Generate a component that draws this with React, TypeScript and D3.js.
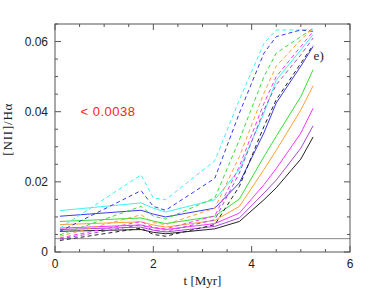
import React from 'react';
import * as d3 from 'd3';

const times = [0.1, 1.75, 2.0, 2.25, 3.25, 3.75, 4.25, 4.5, 5.0, 5.25];

// solid lines
const cyanSolid = [0.0118, 0.014, 0.0125, 0.0114, 0.0149, 0.0235, 0.0396, 0.049, 0.0576, 0.062];
const blueSolid = [0.0102, 0.0119, 0.0108, 0.010, 0.0125, 0.0197, 0.034, 0.0425, 0.053, 0.0586];
const greenSolid = [0.0087, 0.0097, 0.0088, 0.0081, 0.0102, 0.0151, 0.0272, 0.033, 0.0443, 0.052];
const orangeSolid = [0.0078, 0.0086, 0.0077, 0.0071, 0.009, 0.013, 0.0235, 0.029, 0.0405, 0.0474];
const magentaSolid = [0.0068, 0.0077, 0.0069, 0.0064, 0.0081, 0.0111, 0.0192, 0.0238, 0.0339, 0.041];
const purpleSolid = [0.0064, 0.0071, 0.0062, 0.0057, 0.0073, 0.0097, 0.0168, 0.0205, 0.0296, 0.036];
const blackSolid = [0.0059, 0.0064, 0.0056, 0.0052, 0.0066, 0.0087, 0.0149, 0.0183, 0.0265, 0.0328];

// dashed lines
const cyanDashed = [0.0068, 0.022, 0.0154, 0.0149, 0.026, 0.0434, 0.0595, 0.0633, 0.0633, 0.0635];
const blueDashed = [0.0059, 0.0175, 0.013, 0.0119, 0.021, 0.0396, 0.0567, 0.0614, 0.0633, 0.0629];
const greenDashed = [0.0049, 0.013, 0.0102, 0.0094, 0.0154, 0.032, 0.050, 0.0567, 0.0614, 0.0638];
const orangeDashed = [0.0045, 0.0106, 0.0084, 0.0078, 0.0125, 0.0272, 0.0453, 0.053, 0.0605, 0.0638];
const magentaDashed = [0.004, 0.0087, 0.007, 0.0066, 0.0103, 0.0244, 0.0424, 0.050, 0.0586, 0.0629];
const purpleDashed = [0.0037, 0.0078, 0.0062, 0.0059, 0.0092, 0.0225, 0.0405, 0.0477, 0.0562, 0.061];
const blackDashed = [0.0033, 0.0068, 0.005, 0.0045, 0.0078, 0.0187, 0.0358, 0.0434, 0.0538, 0.059];

const threshold = 0.0038;
const xTicks = [0, 2, 4, 6];
const yTicks = [0, 0.02, 0.04, 0.06];

const series = [
  { values: cyanSolid, color: '#3ff2f2', dashed: false },
  { values: blueSolid, color: '#3a3af0', dashed: false },
  { values: greenSolid, color: '#33e033', dashed: false },
  { values: orangeSolid, color: '#ffa030', dashed: false },
  { values: magentaSolid, color: '#ff33ff', dashed: false },
  { values: purpleSolid, color: '#a848e0', dashed: false },
  { values: blackSolid, color: '#222222', dashed: false },
  { values: cyanDashed, color: '#3ff2f2', dashed: true },
  { values: blueDashed, color: '#3a3af0', dashed: true },
  { values: greenDashed, color: '#33e033', dashed: true },
  { values: orangeDashed, color: '#ffa030', dashed: true },
  { values: magentaDashed, color: '#ff33ff', dashed: true },
  { values: purpleDashed, color: '#a848e0', dashed: true },
  { values: blackDashed, color: '#222222', dashed: true },
];

const W = 376;
const H = 291;
const margin = { top: 24, right: 26, bottom: 39, left: 55 };

export default function App() {
  const innerW = W - margin.left - margin.right;
  const innerH = H - margin.top - margin.bottom;
  const x = d3.scaleLinear().domain([0, 6]).range([0, innerW]);
  const y = d3.scaleLinear().domain([0, 0.065]).range([innerH, 0]);

  const line = d3.line<number>()
    .x((_, i) => x(times[i]))
    .y(d => y(d));

  const xMinor = d3.range(0, 6.01, 0.5);
  const yMinor = d3.range(0, 0.0651, 0.005);
  const frame = '#555';
  const numFont = '"Liberation Sans", Arial, sans-serif';
  const serif = '"Liberation Serif", "DejaVu Serif", serif';

  return (
    <svg width={W} height={H} style={{ position: 'absolute', left: 0, top: 0, background: '#fff' }}>
      <g transform={`translate(${margin.left},${margin.top})`}>
        <line x1={0} x2={innerW} y1={y(threshold)} y2={y(threshold)} stroke="#888" strokeWidth={1} />
        {series.map((s, i) => (
          <path key={i} d={line(s.values) || ''} fill="none" stroke={s.color}
            strokeWidth={1} strokeDasharray={s.dashed ? '4,3' : undefined} />
        ))}
        {/* ticks */}
        {xMinor.map((t, i) => {
          const major = Math.abs(t - Math.round(t / 2) * 2) < 1e-6;
          const len = major ? 6 : 3;
          return (
            <g key={'x' + i} stroke={frame} strokeWidth={1}>
              <line x1={x(t)} x2={x(t)} y1={innerH} y2={innerH - len} />
              <line x1={x(t)} x2={x(t)} y1={0} y2={len} />
            </g>
          );
        })}
        {yMinor.map((v, i) => {
          const major = Math.abs(v / 0.02 - Math.round(v / 0.02)) < 1e-6;
          const len = major ? 6 : 3;
          return (
            <g key={'y' + i} stroke={frame} strokeWidth={1}>
              <line x1={0} x2={len} y1={y(v)} y2={y(v)} />
              <line x1={innerW} x2={innerW - len} y1={y(v)} y2={y(v)} />
            </g>
          );
        })}
        <rect x={0} y={0} width={innerW} height={innerH} fill="none" stroke={frame} strokeWidth={1} />
        {xTicks.map(t => (
          <text key={t} x={x(t)} y={innerH + 16} textAnchor="middle" fontFamily={numFont} fontSize={12} fill="#222">{t}</text>
        ))}
        {yTicks.map(v => (
          <text key={v} x={-7} y={y(v) + 4} textAnchor="end" fontFamily={numFont} fontSize={12} fill="#222">{v === 0 ? '0' : v.toFixed(2)}</text>
        ))}
        <text x={x(3)} y={innerH + 33} textAnchor="middle" fontFamily={serif} fontSize={13} fill="#222">t [Myr]</text>
        <text transform={`translate(${-43},${y(0.035)}) rotate(-90)`} textAnchor="middle" fontFamily={serif} fontSize={13} letterSpacing={0.8} fill="#222">[NII]/Hα</text>
        <text x={x(0.52)} y={y(0.04) + 4} fontFamily={numFont} fontSize={13} letterSpacing={0.5} fill="#ff2020">&lt; 0.0038</text>
        <text x={x(5.26)} y={y(0.056) + 4} fontFamily={serif} fontSize={13} fill="#222">e)</text>
      </g>
    </svg>
  );
}
